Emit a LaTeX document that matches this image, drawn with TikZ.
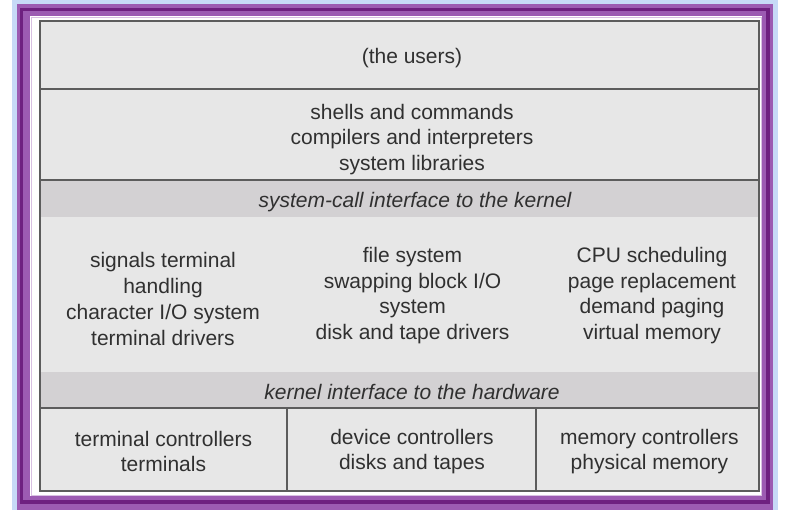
\documentclass[tikz,border=0pt]{standalone}
\usepackage{fontspec}
\setmainfont{Liberation Sans}
\definecolor{lblue}{HTML}{C7DAF7}
\definecolor{pmid}{HTML}{9C5BB2}
\definecolor{pdark}{HTML}{6E2080}
\definecolor{plight}{HTML}{D8C0E2}
\definecolor{boxgray}{HTML}{E7E7E7}
\definecolor{bandgray}{HTML}{D3D1D3}
\definecolor{linegray}{HTML}{5C5C5C}
\definecolor{txtgray}{HTML}{303030}
\begin{document}
\begin{tikzpicture}[x=1pt,y=-1pt,
  txt/.style={text=txtgray, font=\fontsize{21}{25.8}\selectfont, align=center, inner sep=0pt},
  itxt/.style={txt, font=\fontsize{21}{25.8}\selectfont\itshape},
  rule/.style={draw=linegray, line width=2.4pt}]
\useasboundingbox (0,0) rectangle (800,509);
\clip (0,0) rectangle (800,509);
\fill[white] (0,0) rectangle (800,509);
% slide frame
\fill[lblue] (12,-5) rectangle (778,520);
\fill[pmid] (17,4) rectangle (773,520);
\draw[pdark, line width=3.5pt] (21.5,9.5) rectangle (768,502);
\fill[white] (30,16) rectangle (762,496);
\draw[plight, line width=1pt] (31,17) rectangle (761,495);
% layered box
\fill[boxgray] (40,21) rectangle (759,491);
\fill[bandgray] (40,180) rectangle (759,217);
\fill[bandgray] (40,372) rectangle (759,408);
\draw[rule] (40,89) -- (759,89);
\draw[rule] (40,180) -- (759,180);
\draw[rule] (40,408) -- (759,408);
\draw[rule] (287,408) -- (287,491);
\draw[rule] (536,408) -- (536,491);
\draw[rule] (40,21) rectangle (759,491);
% texts
\node[txt] (users) at (412,58) {(the users)};
\node[txt] (shells) at (412,139.5) {shells and commands\\compilers and interpreters\\system libraries};
\node[itxt] (syscall) at (415,202) {system-call interface to the kernel};
\node[txt] (kleft) at (163,299) {signals terminal\\handling\\character I/O system\\terminal drivers};
\node[txt] (kmid) at (412.5,295.5) {file system\\swapping block I/O\\system\\disk and tape drivers};
\node[txt] (kright) at (652,295.5) {CPU scheduling\\page replacement\\demand paging\\virtual memory};
\node[itxt] (khw) at (412,392) {kernel interface to the hardware};
\node[txt] (bl) at (163.5,451.5) {terminal controllers\\terminals};
\node[txt] (bm) at (412,451.5) {device controllers\\disks and tapes};
\node[txt] (br) at (649.5,451.5) {memory controllers\\physical memory};
\end{tikzpicture}
\end{document}
